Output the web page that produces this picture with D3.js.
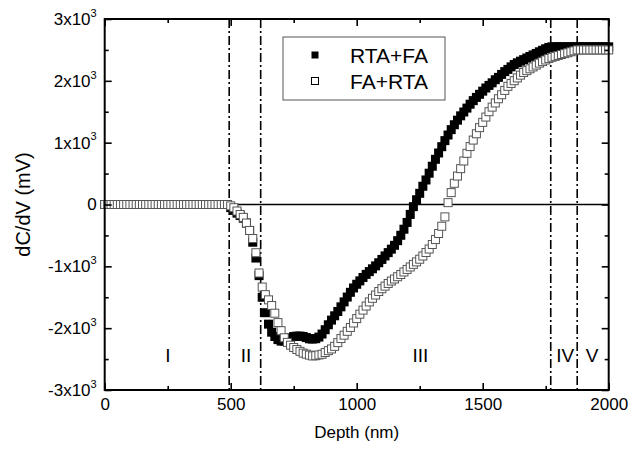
<!DOCTYPE html>
<html>
<head>
<meta charset="utf-8">
<script src="https://cdn.jsdelivr.net/npm/d3@7"></script>
<style>
  body { margin: 0; background: #fff; }
  svg { display: block; }
  text { font-family: Arial, "Liberation Sans", sans-serif; fill: #000; }
</style>
</head>
<body>
<svg id="chart" width="631" height="450"></svg>
<script>
// Depth grid (nm) shared by both profiles
const depthStep = 12.5;
const depthMax = 2000;

// dC/dV profile (mV), RTA followed by FA
const rtaFa = [
  0,0,0,0,0,0,0,0,0,0, 0,0,0,0,0,0,0,0,0,0,
  0,0,0,0,0,0,0,0,0,0, 0,0,0,0,0,0,0,0,0,0,
  -50,-95,-140,-178,-222,-300,-420,-610,-866,-1150,
  -1500,-1750,-1935,-2065,-2135,-2185,-2209,-2209,-2185,-2155,
  -2135,-2128,-2128,-2135,-2152,-2172,-2176,-2170,-2144,-2095,
  -2025,-1945,-1870,-1800,-1730,-1655,-1575,-1497,-1420,-1350,
  -1290,-1235,-1180,-1130,-1085,-1040,-993,-942,-888,-832,
  -778,-722,-660,-585,-498,-400,-290,-160,-35,77,
  181,295,397,506,619,731,833,935,1033,1124,
  1211,1290,1364,1434,1496,1559,1622,1680,1732,1782,
  1833,1884,1926,1968,2018,2056,2104,2149,2185,2226,
  2264,2292,2318,2343,2369,2394,2419,2443,2470,2494,
  2519,2540,2550,
  2550,2550,2550,2550,2550,2550,2550,2550,2550,
  2550,2550,2550,2550,2550,2550,2550,2550,2550
];

// dC/dV profile (mV), FA followed by RTA
const faRta = [
  0,0,0,0,0,0,0,0,0,0, 0,0,0,0,0,0,0,0,0,0,
  0,0,0,0,0,0,0,0,0,0, 0,0,0,0,0,0,0,0,0,0,
  -22,-52,-105,-162,-208,-300,-420,-550,-780,-1108,
  -1335,-1458,-1542,-1634,-1758,-1910,-2041,-2155,-2230,-2275,
  -2313,-2345,-2375,-2403,-2420,-2436,-2449,-2445,-2433,-2422,
  -2394,-2364,-2336,-2294,-2234,-2168,-2113,-2051,-1988,-1916,
  -1845,-1774,-1708,-1642,-1575,-1517,-1464,-1407,-1362,-1320,
  -1277,-1238,-1205,-1168,-1132,-1091,-1050,-1010,-968,-928,
  -885,-833,-776,-720,-647,-567,-469,-352,-200,30,
  192,343,460,580,704,828,937,1042,1144,1243,
  1328,1414,1501,1575,1642,1710,1775,1845,1911,1958,
  2002,2047,2092,2134,2165,2195,2225,2255,2286,2311,
  2337,2362,2381,2396,2411,2426,2440,2454,2470,2485,
  2500,
  2500,2500,2500,2500,2500,2500,2500,2500,2500,2500
];

const seriesNames = ["RTA+FA", "FA+RTA"];

const xTicks = [0, 500, 1000, 1500, 2000];
const xMinorTicks = [250, 750, 1250, 1750];
const yTicks = [-3000, -2000, -1000, 0, 1000, 2000, 3000];
const yMinorTicks = [-2500, -1500, -500, 500, 1500, 2500];

// Region boundaries (nm) and region names
const boundaries = [494, 619, 1770, 1875];
const regionNames = ["I", "II", "III", "IV", "V"];
const regionCenters = [251, 561, 1253, 1827, 1934];

const fontFamily = 'Arial, "Liberation Sans", sans-serif';
const svg = d3.select("#chart");
const plotL = 104.7, plotR = 608.7, plotT = 19, plotB = 390;

const x = d3.scaleLinear().domain([0, depthMax]).range([plotL, plotR]);
const y = d3.scaleLinear().domain([-3000, 3000]).range([plotB, plotT]);

const depth = rtaFa.map((_, i) => i * depthStep);

// Boundary lines (dash-dot)
svg.append("g").selectAll("line").data(boundaries).join("line")
  .attr("x1", d => x(d)).attr("x2", d => x(d))
  .attr("y1", y(3000)).attr("y2", y(-3000))
  .attr("stroke", "#000").attr("stroke-width", 1.6)
  .attr("stroke-dasharray", "9,3,2,3");

// Zero reference line
svg.append("line")
  .attr("x1", x(boundaries[0])).attr("x2", x(depthMax))
  .attr("y1", y(0)).attr("y2", y(0))
  .attr("stroke", "#000").attr("stroke-width", 1.6);

// RTA+FA: filled squares
const msFilled = 9;
svg.append("g").selectAll("rect").data(rtaFa).join("rect")
  .attr("x", (d, i) => x(depth[i]) - msFilled / 2)
  .attr("y", d => y(d) - msFilled / 2)
  .attr("width", msFilled).attr("height", msFilled)
  .attr("fill", "#000");

// FA+RTA: open squares
const msOpen = 8;
svg.append("g").selectAll("rect").data(faRta).join("rect")
  .attr("x", (d, i) => x(depth[i]) - msOpen / 2)
  .attr("y", d => y(d) - msOpen / 2)
  .attr("width", msOpen).attr("height", msOpen)
  .attr("fill", "#fff").attr("stroke", "#555").attr("stroke-width", 1);

// Axes with inward ticks
function styleAxis(g) {
  g.attr("font-family", fontFamily).attr("font-size", 17);
  g.select(".domain").remove();
  g.selectAll(".tick line").attr("stroke", "#000").attr("stroke-width", 1.6);
  g.selectAll("text").attr("fill", "#000");
}

svg.append("g").attr("transform", `translate(0,${plotB})`)
  .call(d3.axisBottom(x).tickValues(xTicks).tickFormat(d3.format("d"))
    .tickSizeInner(-7).tickSizeOuter(0).tickPadding(8))
  .call(styleAxis);
svg.append("g").attr("transform", `translate(0,${plotB})`)
  .call(d3.axisBottom(x).tickValues(xMinorTicks).tickSizeInner(-4).tickSizeOuter(0).tickFormat(""))
  .call(styleAxis);
svg.append("g").attr("transform", `translate(0,${plotT})`)
  .call(d3.axisTop(x).tickValues(xTicks).tickSizeInner(-7).tickSizeOuter(0).tickFormat(""))
  .call(styleAxis);
svg.append("g").attr("transform", `translate(0,${plotT})`)
  .call(d3.axisTop(x).tickValues(xMinorTicks).tickSizeInner(-4).tickSizeOuter(0).tickFormat(""))
  .call(styleAxis);

const yAxisG = svg.append("g").attr("transform", `translate(${plotL},0)`)
  .call(d3.axisLeft(y).tickValues(yTicks).tickSizeInner(-7).tickSizeOuter(0).tickPadding(8))
  .call(styleAxis);
svg.append("g").attr("transform", `translate(${plotL},0)`)
  .call(d3.axisLeft(y).tickValues(yMinorTicks).tickSizeInner(-4).tickSizeOuter(0).tickFormat(""))
  .call(styleAxis);
svg.append("g").attr("transform", `translate(${plotR},0)`)
  .call(d3.axisRight(y).tickValues(yTicks).tickSizeInner(-7).tickSizeOuter(0).tickFormat(""))
  .call(styleAxis);
svg.append("g").attr("transform", `translate(${plotR},0)`)
  .call(d3.axisRight(y).tickValues(yMinorTicks).tickSizeInner(-4).tickSizeOuter(0).tickFormat(""))
  .call(styleAxis);

// y tick labels in "n x 10^3" form
yAxisG.selectAll(".tick text").each(function (v) {
  const t = d3.select(this).text(null);
  if (v === 0) { t.append("tspan").text("0"); return; }
  t.append("tspan").text(`${v / 1000}x10`);
  t.append("tspan").attr("font-size", 11).attr("dy", "-0.75em").text("3");
});

// Plot frame
svg.append("rect")
  .attr("x", plotL).attr("y", plotT)
  .attr("width", plotR - plotL).attr("height", plotB - plotT)
  .attr("fill", "none").attr("stroke", "#000").attr("stroke-width", 2);

// Region labels
svg.append("g").selectAll("text").data(regionNames).join("text")
  .attr("x", (d, i) => x(regionCenters[i]))
  .attr("y", 362)
  .attr("text-anchor", "middle")
  .attr("font-size", 19)
  .text(d => d);

// Axis titles
svg.append("text")
  .attr("x", (plotL + plotR) / 2).attr("y", 438)
  .attr("text-anchor", "middle").attr("font-size", 17)
  .text("Depth (nm)");
svg.append("text")
  .attr("transform", `translate(30,${y(0)}) rotate(-90)`)
  .attr("text-anchor", "middle").attr("font-size", 20)
  .text("dC/dV (mV)");

// Legend
const lg = svg.append("g");
lg.append("rect").attr("x", 283).attr("y", 37).attr("width", 162).attr("height", 63)
  .attr("fill", "#fff").attr("stroke", "#555").attr("stroke-width", 1);
const legendRows = [
  { name: seriesNames[0], fill: "#000", stroke: "none" },
  { name: seriesNames[1], fill: "#fff", stroke: "#000" }
];
legendRows.forEach((r, i) => {
  const cy = 55 + i * 26;
  lg.append("rect").attr("x", 315 - 3.5).attr("y", cy - 3.5)
    .attr("width", 7).attr("height", 7)
    .attr("fill", r.fill).attr("stroke", r.stroke).attr("stroke-width", 1);
  lg.append("text").attr("x", 350).attr("y", cy + 7.5)
    .attr("font-size", 21).text(r.name);
});
</script>
</body>
</html>
